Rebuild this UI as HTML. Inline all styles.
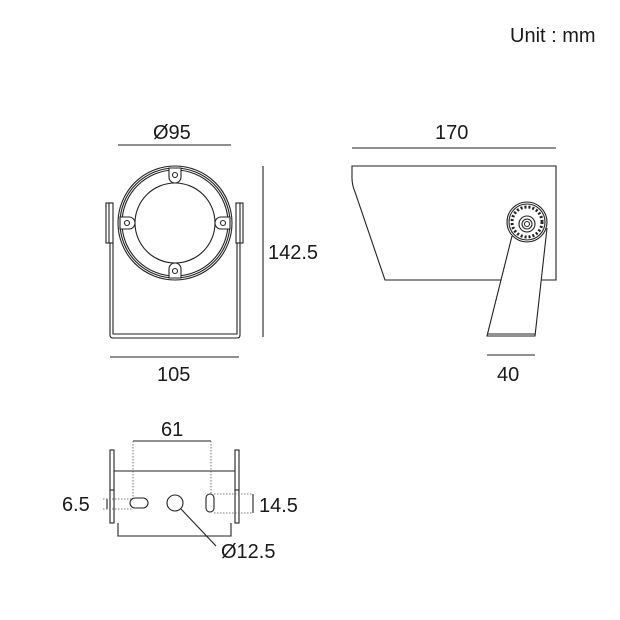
<!DOCTYPE html>
<html><head><style>body{margin:0;background:#fff}svg{display:block}text{font-family:"Liberation Sans",Arial,sans-serif;fill:#1a1a1a}</style></head><body>
<svg width="620" height="620" viewBox="0 0 620 620" xmlns="http://www.w3.org/2000/svg">
<g fill="none" stroke="#222" stroke-width="1.1">
<!-- front view -->
<line x1="118" y1="145" x2="231" y2="145"/>
<line x1="263" y1="166" x2="263" y2="337"/>
<line x1="110" y1="357" x2="239" y2="357"/>
<rect x="106" y="203" width="7" height="40"/>
<line x1="109" y1="203" x2="109" y2="243"/>
<rect x="236" y="203" width="7" height="40"/>
<line x1="240" y1="203" x2="240" y2="243"/>
<path d="M110 243 V335 Q110 338 113 338 H237 Q240 338 240 335 V243"/>
<path d="M113 243 V334 H237 V243"/>
<circle cx="175" cy="223" r="57" fill="#fff"/>
<circle cx="175" cy="223" r="55"/>
<circle cx="175" cy="223" r="53"/>
<circle cx="175" cy="223" r="40"/>
<g fill="#fff">
<path d="M169 168 h12 v9 a6 6 0 0 1 -12 0z"/><circle cx="175" cy="175" r="2.5"/>
<path d="M169 278 h12 v-9 a6 6 0 0 0 -12 0z"/><circle cx="175" cy="271" r="2.5"/>
<path d="M120 217 v12 h9 a6 6 0 0 0 0 -12z"/><circle cx="127" cy="223" r="2.5"/>
<path d="M230 217 v12 h-9 a6 6 0 0 1 0 -12z"/><circle cx="223" cy="223" r="2.5"/>
</g>
<!-- side view -->
<line x1="352" y1="148" x2="556" y2="148"/>
<path d="M352 166 H556 V280 H385 L355 192 Q352 185 352 178 Z"/>
<path d="M512 236 L487 336 H535 L547 228" fill="#fff"/>
<line x1="488" y1="334" x2="535" y2="334"/>
<line x1="487" y1="355" x2="535" y2="355"/>
<circle cx="527" cy="222" r="20" fill="#fff"/>
<circle cx="527" cy="222" r="18"/>
<circle cx="527" cy="222" r="15" stroke-dasharray="2 2" stroke-width="3"/>
<circle cx="527" cy="224" r="8"/>
<circle cx="527" cy="224" r="5"/>
<circle cx="527" cy="224" r="2.5"/>
<!-- bracket -->
<rect x="110" y="450" width="4" height="73"/>
<rect x="235" y="450" width="4" height="73"/>
<line x1="110" y1="490" x2="114" y2="490"/><line x1="235" y1="490" x2="239" y2="490"/>
<line x1="114" y1="471" x2="235" y2="471"/>
<path d="M118 523 V536 H231 V523"/>
<rect x="130" y="498" width="18" height="10" rx="5"/>
<circle cx="175" cy="503" r="8"/>
<rect x="206" y="494" width="8" height="18" rx="4"/>
<line x1="133" y1="441" x2="211" y2="441"/>
<line x1="181" y1="509" x2="216" y2="546"/>
<line x1="253" y1="494" x2="253" y2="513"/>
<line x1="107" y1="499" x2="107" y2="509"/>
</g>
<g fill="none" stroke="#555" stroke-width="0.8" stroke-dasharray="1.5 1.5">
<line x1="133" y1="441" x2="133" y2="498"/>
<line x1="211" y1="441" x2="211" y2="494"/>
<line x1="103" y1="499" x2="132" y2="499"/>
<line x1="103" y1="509" x2="132" y2="509"/>
<line x1="214" y1="494" x2="253" y2="494"/>
<line x1="214" y1="513" x2="253" y2="513"/>
</g>
<g font-size="20">
<text x="510" y="42">Unit : mm</text>
<text x="153" y="139">Ø95</text>
<text x="268" y="259">142.5</text>
<text x="157" y="381">105</text>
<text x="435" y="139">170</text>
<text x="497" y="381">40</text>
<text x="161" y="436">61</text>
<text x="62" y="511">6.5</text>
<text x="259" y="512">14.5</text>
<text x="221" y="558">Ø12.5</text>
</g>
</svg>
</body></html>
